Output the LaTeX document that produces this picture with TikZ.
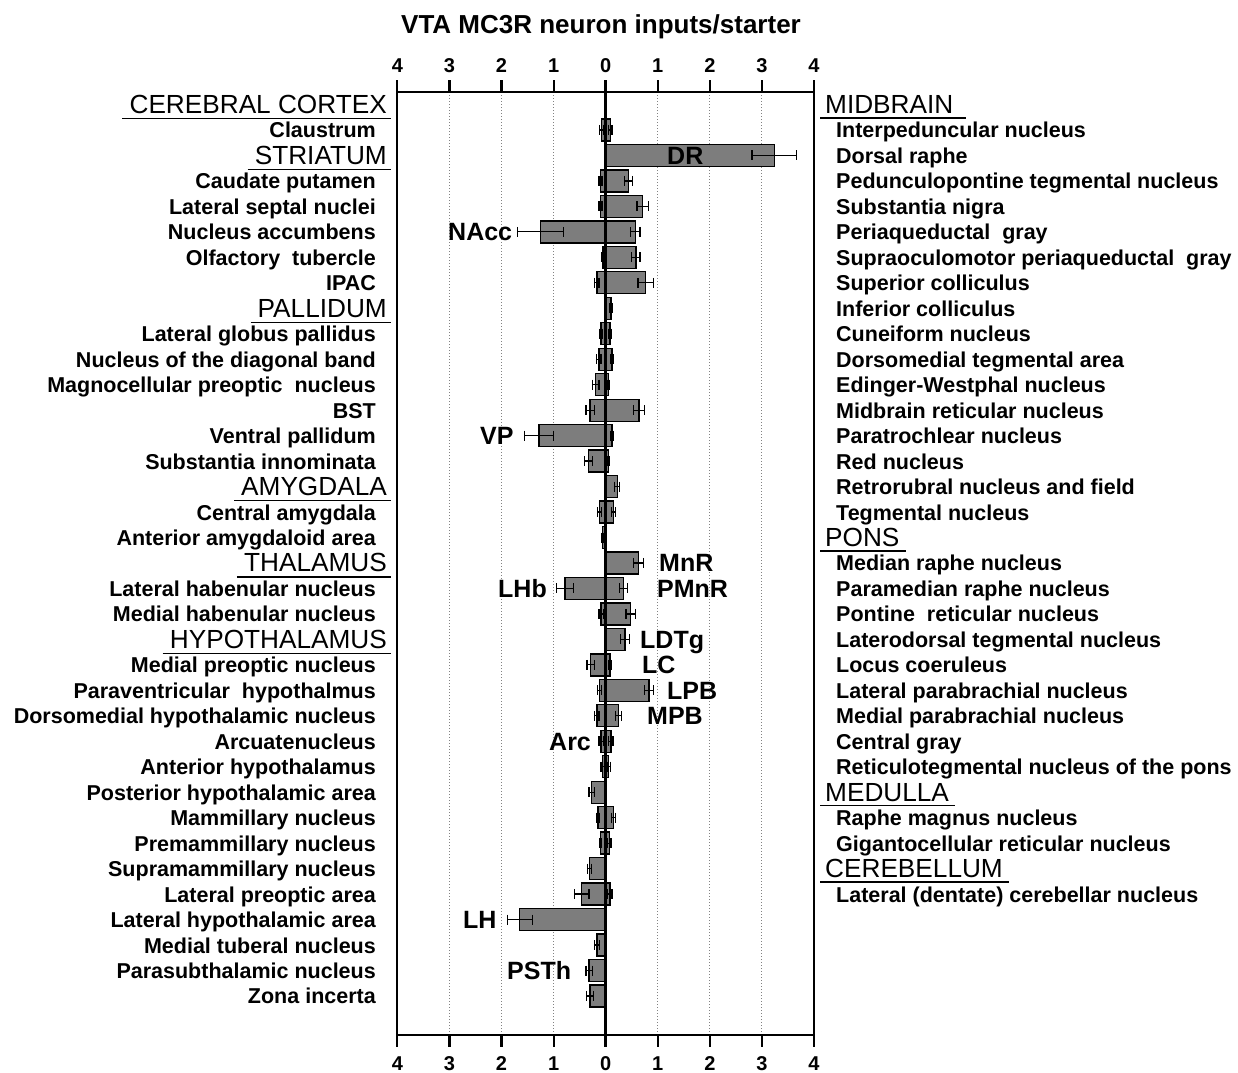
\documentclass[tikz,border=0pt]{standalone}
\usepackage{fontspec}
\setmainfont{Liberation Sans}
\definecolor{barfill}{RGB}{125,125,125}
\definecolor{gridc}{RGB}{130,130,130}
\newcommand\Ux{52.08}
\newcommand\Zx{605.7}
\newcommand\mybar[3]{%
  \pgfmathsetmacro\yy{104.5+25.47*#1}%
  \pgfmathsetmacro\xx{\Zx+\Ux*(#2)}%
  \draw[barbox] (\Zx,\yy-11) rectangle (\xx,\yy+11);%
}
\newcommand\myerr[3]{%
  \pgfmathsetmacro\yy{104.5+25.47*#1}%
  \pgfmathsetmacro\xa{\Zx+\Ux*(#2-#3)}%
  \pgfmathsetmacro\xb{\Zx+\Ux*(#2+#3)}%
  \draw[errline] (\xa,\yy) -- (\xb,\yy) (\xa,\yy-5) -- (\xa,\yy+5) (\xb,\yy-5) -- (\xb,\yy+5);%
}
\begin{document}
\begin{tikzpicture}[x=1pt,y=-1pt,
  lab/.style={font=\fontsize{21.5}{24}\selectfont\bfseries, inner sep=0pt},
  hdr/.style={font=\fontsize{26.2}{30}\selectfont, inner sep=0pt},
  ann/.style={font=\fontsize{25}{28}\selectfont\bfseries, inner sep=0pt, anchor=base west},
  ticklab/.style={font=\fontsize{20}{22}\selectfont\bfseries, inner sep=0pt, anchor=base},
  ttl/.style={font=\fontsize{26}{30}\selectfont\bfseries, inner sep=0pt, anchor=base},
  barbox/.style={fill=barfill, draw=black, line width=1.3pt},
  errline/.style={draw=black, line width=1.2pt},
  frameline/.style={draw=black, line width=2.2pt},
  gridline/.style={draw=gridc, dotted, line width=1pt},
  uline/.style={draw=black, line width=1.3pt}]
\clip (0,0) rectangle (1238,1072);
\fill[white] (0,0) rectangle (1238,1072);

% title
\node[ttl] (title) at (601,33) {VTA MC3R neuron inputs/starter};

% grid
\foreach \k in {-3,-2,-1,1,2,3}
  \draw[gridline] ({\Zx+\Ux*\k},92) -- ({\Zx+\Ux*\k},1035);

% frame and ticks
\draw[frameline] (397.3,92) -- (814.3,92);
\draw[frameline] (397.3,1035) -- (814.3,1035);
\draw[frameline] (397.3,92) -- (397.3,1035);
\draw[frameline] (814.3,92) -- (814.3,1035);
\foreach \k/\t in {-4/4,-3/3,-2/2,-1/1,0/0,1/1,2/2,3/3,4/4} {
  \draw[frameline] ({\Zx+\Ux*\k},80) -- ({\Zx+\Ux*\k},92);
  \draw[frameline] ({\Zx+\Ux*\k},1035) -- ({\Zx+\Ux*\k},1047);
  \node[ticklab] (tt\k) at ({\Zx+\Ux*\k},72) {\t};
  \node[ticklab] (tb\k) at ({\Zx+\Ux*\k},1070) {\t};
}

% bars (left and right)
\foreach \i/\v in {1/-0.08,3/-0.10,4/-0.10,5/-1.25,6/-0.05,7/-0.17,9/-0.09,10/-0.13,11/-0.19,12/-0.30,13/-1.28,14/-0.33,16/-0.12,17/-0.06,19/-0.78,20/-0.09,22/-0.29,23/-0.12,24/-0.17,25/-0.09,26/-0.06,27/-0.27,28/-0.15,29/-0.10,30/-0.31,31/-0.46,32/-1.65,33/-0.17,34/-0.32,35/-0.30}
  \mybar{\i}{\v}{0};
\foreach \i/\v in {1/0.09,2/3.24,3/0.44,4/0.71,5/0.57,6/0.58,7/0.77,8/0.10,9/0.08,10/0.12,11/0.06,12/0.64,13/0.12,14/0.06,15/0.22,16/0.15,18/0.63,19/0.34,20/0.48,21/0.37,22/0.08,23/0.83,24/0.25,25/0.10,26/0.06,28/0.15,29/0.07,31/0.08}
  \mybar{\i}{\v}{0};

% error bars
\foreach \i/\v/\e in {1/-0.08/0.04,3/-0.10/0.03,4/-0.10/0.03,5/-1.25/0.44,6/-0.05/0.02,7/-0.17/0.04,9/-0.09/0.03,10/-0.13/0.04,11/-0.19/0.06,12/-0.30/0.08,13/-1.28/0.28,14/-0.33/0.08,16/-0.12/0.04,17/-0.06/0.02,19/-0.78/0.16,20/-0.09/0.04,22/-0.29/0.07,23/-0.12/0.04,24/-0.17/0.04,25/-0.09/0.04,26/-0.06/0.03,27/-0.27/0.05,28/-0.15/0.03,29/-0.10/0.02,30/-0.31/0.04,31/-0.46/0.14,32/-1.65/0.24,33/-0.17/0.05,34/-0.32/0.06,35/-0.30/0.07}
  \myerr{\i}{\v}{\e};
\foreach \i/\v/\e in {1/0.09/0.03,2/3.24/0.43,3/0.44/0.08,4/0.71/0.11,5/0.57/0.09,6/0.58/0.08,7/0.77/0.15,8/0.10/0.02,9/0.08/0.02,10/0.12/0.03,11/0.06/0.02,12/0.64/0.11,13/0.12/0.02,14/0.06/0.02,15/0.22/0.05,16/0.15/0.04,18/0.63/0.10,19/0.34/0.08,20/0.48/0.09,21/0.37/0.08,22/0.08/0.02,23/0.83/0.09,24/0.25/0.06,25/0.10/0.04,26/0.06/0.03,28/0.15/0.04,29/0.07/0.03,31/0.08/0.04}
  \myerr{\i}{\v}{\e};

% zero line
\draw[draw=black, line width=2.6pt] (\Zx,80) -- (\Zx,1047);

% bar annotations
\foreach \n/\x/\i in {DR/667/2,NAcc/448/5,VP/480/13,MnR/659/18,PMnR/657/19,LHb/498/19,LDTg/640/21,LC/642/22,LPB/667/23,MPB/647/24,Arc/549/25,LH/463/32,PSTh/507/34}
  \node[ann] (a\n) at (\x,{104.5+25.47*\i+9}) {\n};

% left headers
\foreach \i/\t in {0/CEREBRAL CORTEX,2/STRIATUM,8/PALLIDUM,15/AMYGDALA,18/THALAMUS,21/HYPOTHALAMUS} {
  \node[hdr, anchor=base east] (hL\i) at (387,{104.5+25.47*\i+9}) {\t};
  \draw[uline] ([shift={(-7pt,-5pt)}]hL\i.base west) -- ([shift={(4pt,-5pt)}]hL\i.base east);
}
% right headers
\foreach \i/\t/\r in {0/MIDBRAIN/12,17/PONS/6,27/MEDULLA/6,30/CEREBELLUM/6} {
  \node[hdr, anchor=base west] (hR\i) at (825,{104.5+25.47*\i+9}) {\t};
  \draw[uline] ([shift={(-5pt,-4.5pt)}]hR\i.base west) -- ([shift={(\r pt,-4.5pt)}]hR\i.base east);
}

% left labels
\foreach \i/\t in {1/Claustrum,3/Caudate putamen,4/Lateral septal nuclei,5/Nucleus accumbens,6/Olfactory\ \ tubercle,7/IPAC,9/Lateral globus pallidus,10/Nucleus of the diagonal band,11/Magnocellular preoptic\ \ nucleus,12/BST,13/Ventral pallidum,14/Substantia innominata,16/Central amygdala,17/Anterior amygdaloid area,19/Lateral habenular nucleus,20/Medial habenular nucleus,22/Medial preoptic nucleus,23/Paraventricular\ \ hypothalmus,24/Dorsomedial hypothalamic nucleus,25/Arcuatenucleus,26/Anterior hypothalamus,27/Posterior hypothalamic area,28/Mammillary nucleus,29/Premammillary nucleus,30/Supramammillary nucleus,31/Lateral preoptic area,32/Lateral hypothalamic area,33/Medial tuberal nucleus,34/Parasubthalamic nucleus,35/Zona incerta}
  \node[lab, anchor=base east] (L\i) at (376,{104.5+25.47*\i+8}) {\t};

% right labels
\foreach \i/\t in {1/Interpeduncular nucleus,2/Dorsal raphe,3/Pedunculopontine tegmental nucleus,4/Substantia nigra,5/Periaqueductal\ \ gray,6/Supraoculomotor periaqueductal\ \ gray,7/Superior colliculus,8/Inferior colliculus,9/Cuneiform nucleus,10/Dorsomedial tegmental area,11/Edinger-Westphal nucleus,12/Midbrain reticular nucleus,13/Paratrochlear nucleus,14/Red nucleus,15/Retrorubral nucleus and field,16/Tegmental nucleus,18/Median raphe nucleus,19/Paramedian raphe nucleus,20/Pontine\ \ reticular nucleus,21/Laterodorsal tegmental nucleus,22/Locus coeruleus,23/Lateral parabrachial nucleus,24/Medial parabrachial nucleus,25/Central gray,26/Reticulotegmental nucleus of the pons,28/Raphe magnus nucleus,29/Gigantocellular reticular nucleus,31/Lateral (dentate) cerebellar nucleus}
  \node[lab, anchor=base west] (R\i) at (836,{104.5+25.47*\i+8}) {\t};
\end{tikzpicture}
\end{document}
